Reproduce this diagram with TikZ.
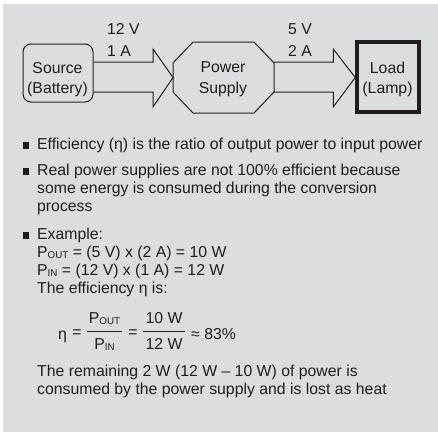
\documentclass[tikz,border=0pt]{standalone}
\usepackage{fontspec}
\setmainfont{Liberation Sans}
\usetikzlibrary{calc}
\definecolor{bg}{HTML}{DCDDDF}
\definecolor{ink}{HTML}{1F1D1E}
\newcommand\psub[1]{\raisebox{-1.8pt}{\fontsize{9.8}{9.8}\selectfont #1}}
\begin{document}
\begin{tikzpicture}[x=1pt,y=-1pt,
  txt/.style={anchor=base west,inner sep=0pt,text=ink,font=\fontsize{15.8}{18}\selectfont},
  ctxt/.style={txt,anchor=base},
  mtxt/.style={inner sep=0pt,text=ink,font=\fontsize{15.8}{18}\selectfont,anchor=center},
  bul/.style={fill=ink,inner sep=0pt,minimum size=6.5pt,anchor=south west},
  srcbox/.style={draw=ink,line width=1pt,rounded corners=8pt,minimum width=70pt,minimum height=58pt,inner sep=0pt},
  psbox/.style={minimum width=101pt,minimum height=71pt,inner sep=0pt,outer sep=0pt},
  oct/.style={draw=ink,line width=1pt,line join=miter},
  loadbox/.style={draw=ink,line width=3.5pt,minimum width=62pt,minimum height=70pt,inner sep=0pt},
  barrow/.style={draw=ink,line width=1pt,line join=miter},
  fbar/.style={draw=ink,line width=0.9pt}
]
\useasboundingbox (0,0) rectangle (438,432);
\fill[bg] (3,4) rectangle (438,432);

% blocks
\node[srcbox] (src) at (58,73) {};
\node[psbox] (ps) at (223.5,77.5) {};
\draw[oct] ($(ps.north west)+(20,0)$) -- ($(ps.north east)+(-20,0)$) -- ($(ps.north east)+(0,21)$)
  -- ($(ps.south east)+(0,-21)$) -- ($(ps.south east)+(-20,0)$) -- ($(ps.south west)+(20,0)$)
  -- ($(ps.south west)+(0,-21)$) -- ($(ps.north west)+(0,21)$) -- cycle;
\node[loadbox] (load) at (388,77) {};

\node[ctxt] (srcA) at (57.5,73.3) {Source};
\node[ctxt] (srcB) at (57.5,93) {(Battery)};
\node[ctxt] (psA) at (223,72.7) {Power};
\node[ctxt] (psB) at (223,93) {Supply};
\node[ctxt] (ldA) at (387.5,73.3) {Load};
\node[ctxt] (ldB) at (387.5,93) {(Lamp)};

% block arrows
\draw[barrow] ($(src.east|-ps.west)+(0,-15.5)$) -- ($(ps.west)+(-20,-15.5)$) -- ($(ps.west)+(-20,-28.5)$) -- (ps.west)
  -- ($(ps.west)+(-20,29.5)$) -- ($(ps.west)+(-20,14.5)$) -- ($(src.east|-ps.west)+(0,14.5)$);
\draw[barrow] ($(ps.east)+(0,-15.5)$) -- ($(load.west|-ps.east)+(-22,-15.5)$) -- ($(load.west|-ps.east)+(-22,-28.5)$) -- (load.west|-ps.east)
  -- ($(load.west|-ps.east)+(-22,29.5)$) -- ($(load.west|-ps.east)+(-22,14.5)$) -- ($(ps.east)+(0,14.5)$);

\node[txt] (inV) at (107,34) {12 V};
\node[txt] (inA) at (107,56) {1 A};
\node[txt] (outV) at (288,34) {5 V};
\node[txt] (outA) at (288,56) {2 A};

% bullets
\node[bul] (bu1) at (22.3,149) {};
\node[bul] (bu2) at (22.3,175) {};
\node[bul] (bu3) at (22.3,239) {};

\node[txt] (l1) at (37,149) {Efficiency (η) is the ratio of output power to input power};
\node[txt] (l2) at (37,175) {Real power supplies are not 100\% efficient because};
\node[txt] (l3) at (37,193) {some energy is consumed during the conversion};
\node[txt] (l4) at (37,211) {process};
\node[txt] (l5) at (37,239) {Example:};
\node[txt] (l6) at (37,257) {P\psub{OUT} = (5 V) x (2 A) = 10 W};
\node[txt] (l7) at (37,275) {P\psub{IN} = (12 V) x (1 A) = 12 W};
\node[txt] (l8) at (37,293) {The efficiency η is:};

% formula
\node[txt] (eta) at (58,339) {η};
\node[mtxt] (eq1) at (77,333.5) {=};
\node[ctxt] (num1) at (104.5,323) {P\psub{OUT}};
\node[ctxt] (den1) at (104.5,349) {P\psub{IN}};
\draw[fbar] (87,331) -- (122,331);
\node[mtxt] (eq2) at (133,333.5) {=};
\node[ctxt] (num2) at (164,323) {10 W};
\node[ctxt] (den2) at (164,349) {12 W};
\draw[fbar] (143,331) -- (185,331);
\node[txt] (apx) at (191,339) {≈ 83\%};

\node[txt] (l9) at (37,376) {The remaining 2 W (12 W – 10 W) of power is};
\node[txt] (l10) at (37,394) {consumed by the power supply and is lost as heat};
\end{tikzpicture}
\end{document}
